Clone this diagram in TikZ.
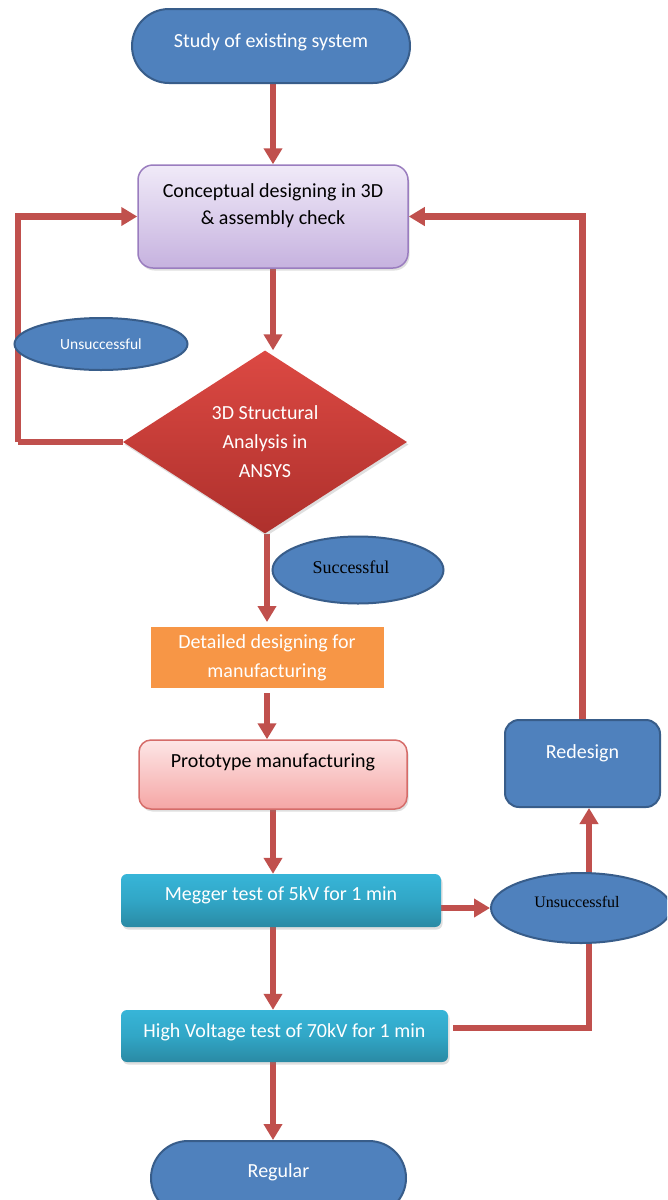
\documentclass[tikz,border=0pt]{standalone}
\usepackage{fontspec}
\setmainfont{Carlito}
\newfontfamily\timesf{Liberation Serif}
\usetikzlibrary{shapes.geometric,shapes.misc,arrows.meta,shadows,backgrounds}
\definecolor{lineRed}{HTML}{C0504D}
\definecolor{blueFill}{HTML}{4F81BD}
\definecolor{blueDraw}{HTML}{385D8A}
\definecolor{lavTop}{HTML}{F0EAF8}
\definecolor{lavBot}{HTML}{C6B2DF}
\definecolor{lavDraw}{HTML}{9A7DBF}
\definecolor{redTop}{HTML}{DC4943}
\definecolor{redBot}{HTML}{AE302C}
\definecolor{orangeFill}{HTML}{F79646}
\definecolor{pinkTop}{HTML}{FDE6E6}
\definecolor{pinkBot}{HTML}{F5A6A5}
\definecolor{pinkDraw}{HTML}{D56C69}
\definecolor{tealTop}{HTML}{37B5D8}
\definecolor{tealMid}{HTML}{31A6C6}
\definecolor{tealBot}{HTML}{2A8AA4}
\begin{document}
\begin{tikzpicture}[x=1pt,y=-1pt,
  conn/.style={draw=lineRed,line width=6.5pt,line join=miter},
  arr/.style={conn,-{Triangle[length=16pt,width=18pt]}},
  sh/.style={drop shadow={opacity=0.25,shadow xshift=1.5pt,shadow yshift=-2.5pt}},
  stadium/.style={rounded rectangle,fill=blueFill,draw=blueDraw,line width=2pt,minimum width=278pt,minimum height=74pt,inner sep=0pt},
  bluebox/.style={rectangle,rounded corners=14pt,fill=blueFill,draw=blueDraw,line width=2pt,inner sep=0pt},
  blueoval/.style={ellipse,fill=blueFill,draw=blueDraw,line width=2pt,inner sep=0pt},
  lavbox/.style={rectangle,rounded corners=15pt,top color=lavTop,bottom color=lavBot,draw=lavDraw,line width=1.5pt,inner sep=0pt,sh},
  pinkbox/.style={rectangle,rounded corners=12pt,top color=pinkTop,bottom color=pinkBot,draw=pinkDraw,line width=1.5pt,inner sep=0pt,sh},
  tealbox/.style={rectangle,rounded corners=6pt,top color=tealTop,bottom color=tealBot,middle color=tealMid,inner sep=0pt,sh},
  big/.style={font=\fontsize{20}{27}\selectfont},
]
\useasboundingbox (0,0) rectangle (667,1200);
\clip (0,0) rectangle (667,1200);

% nodes
\node[stadium,label={[name=startT,text=white,big,yshift=4pt]center:Study of existing system}] (start) at (271,46) {};

\node[lavbox,minimum width=270pt,minimum height=103pt,
  label={[name=conceptT,align=center,big,yshift=11pt]center:Conceptual designing in 3D\\\& assembly check}] (concept) at (273,216.5) {};

\node[diamond,minimum width=284pt,minimum height=183pt,inner sep=0pt,top color=redTop,bottom color=redBot,sh,
  align=center,text=white,font=\fontsize{20}{29}\selectfont] (diam) at (265,442) {3D Structural\\Analysis in\\ANSYS};

\node[blueoval,minimum width=173pt,minimum height=52pt,text=white,font=\fontsize{15.5}{17}\selectfont] (uns1) at (101,344) {Unsuccessful};

\node[blueoval,minimum width=171pt,minimum height=67pt,
  label={[name=succT,font=\timesf\fontsize{18}{20}\selectfont,xshift=-7pt,yshift=3pt]center:Successful}] (succ) at (358,570) {};

\node[rectangle,fill=orangeFill,draw=white,line width=5pt,minimum width=238pt,minimum height=66pt,inner sep=0pt,sh,
  align=center,text=white,font=\fontsize{20}{29}\selectfont] (det) at (267,657.5) {Detailed designing for\\manufacturing};

\node[pinkbox,minimum width=268pt,minimum height=69pt,
  label={[name=protoT,big,yshift=12.5pt]center:Prototype manufacturing}] (proto) at (273,774.5) {};

\node[tealbox,minimum width=320pt,minimum height=53pt,
  label={[name=meggerT,big,text=white,yshift=5pt]center:Megger test of 5kV for 1 min}] (megger) at (281,900.5) {};

\node[tealbox,minimum width=327pt,minimum height=52pt,
  label={[name=hvT,big,text=white,yshift=4pt]center:High Voltage test of 70kV for 1 min}] (hv) at (284.5,1036) {};

\node[stadium,minimum width=255pt,
  label={[name=regT,text=white,big,yshift=6pt]center:Regular}] (reg) at (278.5,1178) {};

\node[bluebox,minimum width=155pt,minimum height=87pt,
  label={[name=redT,text=white,big,yshift=10.5pt]center:Redesign}] (redesign) at (582.5,763.5) {};

\node[blueoval,minimum width=180pt,minimum height=70pt,
  label={[name=uns2T,font=\timesf\fontsize{16}{18}\selectfont,xshift=-4pt,yshift=6pt]center:Unsuccessful}] (uns2) at (581,908) {};

% connectors (behind the shapes)
\begin{scope}[on background layer]
\fill[white] (0,0) rectangle (667,1200);
\draw[arr] (start.south -| concept.north) -- (concept.north);
\draw[arr] (concept.south) -- (concept.south |- diam.north);
\draw[conn] (diam.west) -- ++(-105,0) coordinate (lc);
\draw[arr] (lc) |- (concept.west);
\draw[arr] (diam.south -| det.north) -- (det.north);
\draw[arr] (det.south) -- (det.south |- proto.north);
\draw[arr] (proto.south) -- (proto.south |- megger.north);
\draw[arr] (proto.south |- megger.south) -- (proto.south |- hv.north);
\draw[arr] (proto.south |- hv.south) -- (proto.south |- reg.north);
\draw[arr] (megger.east |- uns2.west) -- (uns2.west);
\draw[arr] ([xshift=8pt]uns2.center) -- ([xshift=8pt]uns2.center |- redesign.south);
\draw[arr] (redesign.north) |- (concept.east);
\draw[conn] ([xshift=5pt,yshift=8pt]hv.east) -| ([xshift=8pt]uns2.center);
\end{scope}
\end{tikzpicture}
\end{document}
